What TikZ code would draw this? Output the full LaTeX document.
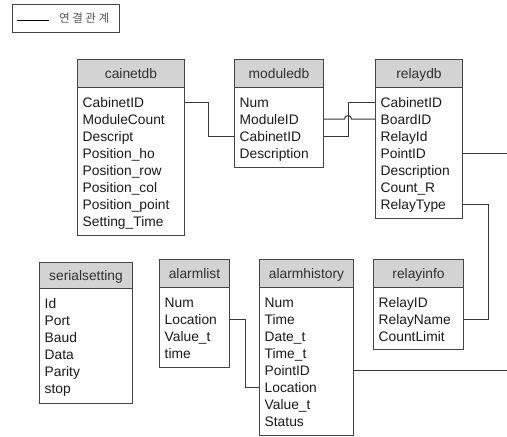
\documentclass[tikz,border=0pt]{standalone}
\usepackage{fontspec}
\setmainfont{Liberation Sans}
\newfontfamily\kor{Noto Sans CJK KR}
\definecolor{boxc}{HTML}{454545}
\definecolor{hdrc}{HTML}{D3D3D3}
\definecolor{txtc}{HTML}{303030}
\definecolor{rowc}{HTML}{1A1A1A}
\definecolor{connc}{HTML}{383838}
\definecolor{legc}{HTML}{555555}
\newcommand\dbtable[8]{%
  \node[hdr, minimum width={(#3-#2)*1pt}, minimum height={(#5-#4)*1pt}] (#1) at (#2,-#4) {#7};
  \node[body, minimum width={(#3-#2)*1pt}, minimum height={(#6-#5)*1pt}] (#1B) at (#2,-#5) {};
  \foreach \r [count=\i] in {#8} \node[rowtxt] (#1-\i) at (#2+5.5,{-#5-20-17*(\i-1)}) {\r};
}
\begin{document}
\begin{tikzpicture}[x=1pt,y=1pt,
  boxline/.style={draw=boxc, line width=1pt},
  hdr/.style={boxline, fill=hdrc, anchor=north west, inner sep=0pt, text height=10pt, text depth=0pt, font=\fontsize{13.8}{16}\selectfont, text=txtc},
  body/.style={boxline, fill=white, anchor=north west, inner sep=0pt},
  rowtxt/.style={anchor=base west, inner sep=0pt, text height=10pt, text depth=0pt, font=\fontsize{13.8}{16}\selectfont, text=rowc},
  conn/.style={draw=connc, line width=1pt},
  legbox/.style={draw=boxc, line width=1pt, anchor=north west, inner sep=0pt}]
\useasboundingbox[fill=white] (0,0) rectangle (507,-437);
% legend
\node[legbox, minimum width=107pt, minimum height=28pt] (legend) at (12,-4) {};
\coordinate (lg1) at (17,-20.5);
\coordinate (lg2) at (49,-20.5);
\draw[conn, draw=black] (lg1) -- (lg2);
\node[text=legc, inner sep=0pt, font=\kor\fontsize{11.5}{12}\selectfont] (legtxt) at (84.2,-18.5) {연\hspace{2.6pt}결\hspace{2.6pt}관\hspace{2.6pt}계};
% tables
\dbtable{cab}{77}{184}{59}{87}{235}{cainetdb}{CabinetID,ModuleCount,Descript,Position\_ho,Position\_row,Position\_col,Position\_point,Setting\_Time}
\dbtable{mod}{234}{323}{59}{87}{167}{moduledb}{Num,ModuleID,CabinetID,Description}
\dbtable{rel}{375}{462}{59}{87}{218}{relaydb}{CabinetID,BoardID,RelayId,PointID,Description,Count\_R,RelayType}
\dbtable{ser}{39}{132}{262}{288}{403}{serialsetting}{Id,Port,Baud,Data,Parity,stop}
\dbtable{alist}{159}{229}{259}{287}{367}{alarmlist}{Num,Location,Value\_t,time}
\dbtable{ahist}{259}{353}{259}{287}{435}{alarmhistory}{Num,Time,Date\_t,Time\_t,PointID,Location,Value\_t,Status}
\dbtable{info}{373}{463}{259}{287}{349}{relayinfo}{RelayID,RelayName,CountLimit}
% junction coordinates
\coordinate (j1) at (208,0);
\coordinate (j2) at (348,0);
\coordinate (hopL) at (344.5,0);
\coordinate (j3) at (488,0);
\coordinate (j4) at (245,0);
\coordinate (edgeR) at (507,0);
% connectors
\draw[conn] (cab-1.center -| cabB.east) -- (cab-1.center -| j1) |- (mod-3.center -| modB.west);
\draw[conn] (mod-2.center -| modB.east) -- (mod-2.center -| hopL) arc[start angle=180, end angle=0, radius=3.5] -- (rel-2.center -| relB.west);
\draw[conn] (mod-3.center -| modB.east) -- (mod-3.center -| j2) |- (rel-1.center -| relB.west);
\draw[conn] (rel-4.center -| relB.east) -- (rel-4.center -| edgeR);
\draw[conn] (rel-7.center -| relB.east) -- (rel-7.center -| j3) |- (info-2.center -| infoB.east);
\draw[conn] (alist-2.center -| alistB.east) -- (alist-2.center -| j4) |- (ahist-6.center -| ahistB.west);
\draw[conn] (ahist-5.center -| ahistB.east) -- (ahist-5.center -| edgeR);
\end{tikzpicture}
\end{document}
